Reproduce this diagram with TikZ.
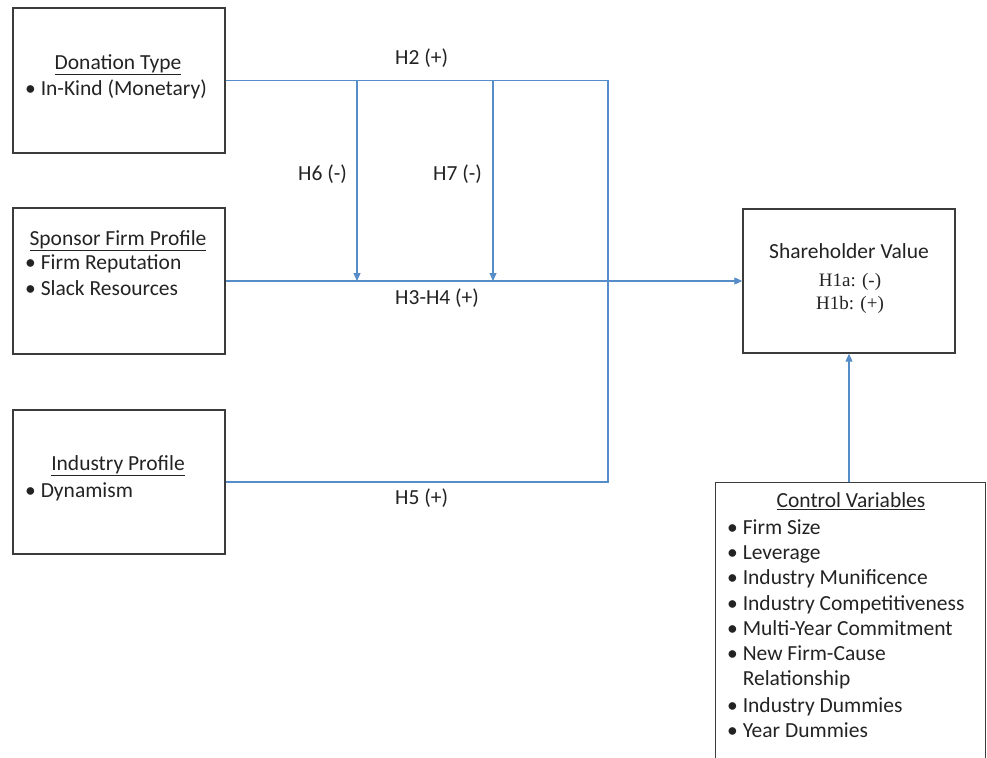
\documentclass[tikz,border=0pt]{standalone}
\usepackage{fontspec}
\setmainfont{Carlito}
\newfontfamily\hypserif{Liberation Serif}
\usetikzlibrary{arrows.meta,positioning,calc}
\definecolor{linkblue}{RGB}{86,140,200}
\definecolor{boxgray}{RGB}{60,60,60}
\definecolor{textgray}{RGB}{35,35,35}

\begin{document}
\begin{tikzpicture}[x=1pt, y=-1pt,
    every node/.style={font=\fontsize{21.5}{26}\selectfont, text=textgray},
    box/.style={draw=boxgray, line width=1.4pt, minimum width=212pt, minimum height=145pt, inner sep=0pt},
    head/.style={anchor=mid, inner sep=0pt},
    item/.style={anchor=mid west, inner sep=0pt},
    hyp/.style={anchor=mid west, inner sep=0pt},
    serifline/.style={anchor=mid, inner sep=0pt, font=\hypserif\fontsize{19}{23}\selectfont},
    link/.style={draw=linkblue, line width=1.1pt},
    arr/.style={link, -{Triangle[length=8pt, width=7pt]}}]
    \useasboundingbox (0,0) rectangle (987,757);

    % boxes
    \node[box] (don) at (119,80.5) {};
    \node[box, minimum height=146pt] (spo) at (119,281) {};
    \node[box, minimum height=144pt] (ind) at (119,482) {};
    \node[box, minimum height=144pt] (sha) at (849,281) {};
    \node[box, anchor=north west, minimum width=270pt, minimum height=300pt] (ctl) at (715,482) {};

    % box texts
    \node[head] (dontit) at (118,67) {\underline{Donation Type}};
    \node[item] (donit) at (25,93) {\textbullet~In-Kind (Monetary)};
    \node[head] (spotit) at (118,243) {\underline{Sponsor Firm Profile}};
    \node[item] (spoit1) at (25,267) {\textbullet~Firm Reputation};
    \node[item] (spoit2) at (25,293) {\textbullet~Slack Resources};
    \node[head] (indtit) at (118,468) {\underline{Industry Profile}};
    \node[item] (indit) at (25,495) {\textbullet~Dynamism};
    \node[head] (shatit) at (849,256) {Shareholder Value};
    \node[serifline] (h1a) at (850,284) {H1a: (-)};
    \node[serifline] (h1b) at (850,307) {H1b: (+)};
    \node[head] (ctltit) at (851,505) {\underline{Control Variables}};
    \node[item] (ctlit1) at (727,532) {\textbullet~Firm Size};
    \node[item] (ctlit2) at (727,557) {\textbullet~Leverage};
    \node[item] (ctlit3) at (727,582) {\textbullet~Industry Munificence};
    \node[item] (ctlit4) at (727,608) {\textbullet~Industry Competitiveness};
    \node[item] (ctlit5) at (727,633) {\textbullet~Multi-Year Commitment};
    \node[item] (ctlit6) at (727,658) {\textbullet~New Firm-Cause};
    \node[item] (ctlit6b) at (727,683) {\phantom{\textbullet~}Relationship};
    \node[item] (ctlit7) at (727,710) {\textbullet~Industry Dummies};
    \node[item] (ctlit8) at (727,735) {\textbullet~Year Dummies};

    % connectors
    \coordinate (jn) at (608,281);
    \coordinate (m6) at (357,80.5);
    \coordinate (m7) at (493,80.5);
    \draw[link] (don.east) -| (jn);
    \draw[link] (ind.east) -| (jn);
    \draw[arr] (spo.east) -- (sha.west);
    \draw[arr] (m6) -- (m6 |- spo.east);
    \draw[arr] (m7) -- (m7 |- spo.east);
    \draw[arr] (sha.south |- ctl.north) -- (sha.south);

    % hypotheses
    \node[hyp] (h2) at (395,62) {H2 (+)};
    \node[hyp] (h6) at (298,178) {H6 (-)};
    \node[hyp] (h7) at (433,178) {H7 (-)};
    \node[hyp] (h34) at (395,302) {H3-H4 (+)};
    \node[hyp] (h5) at (395,502) {H5 (+)};
\end{tikzpicture}
\end{document}
